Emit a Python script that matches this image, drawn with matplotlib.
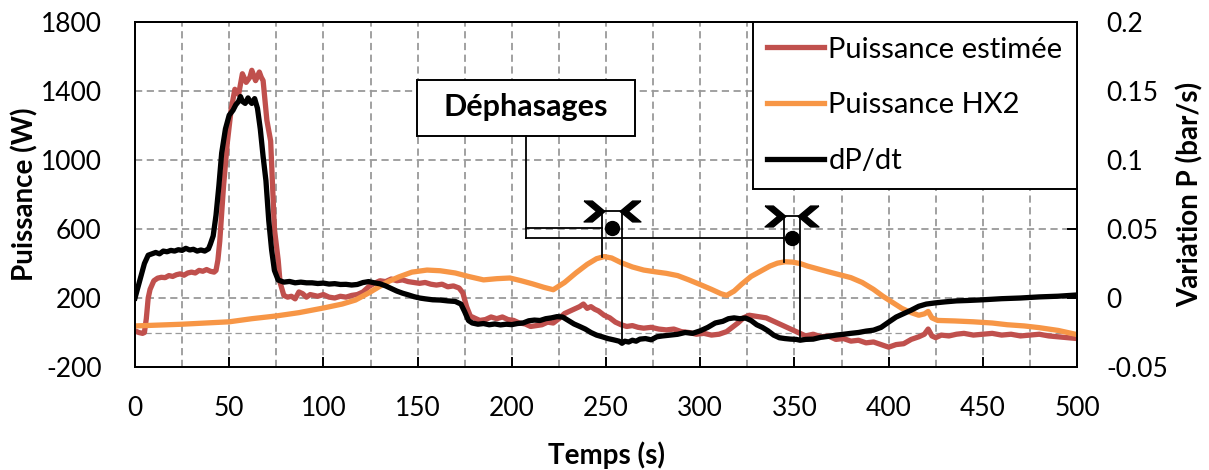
import numpy as np
import matplotlib
matplotlib.use("Agg")
import matplotlib.pyplot as plt
from matplotlib.patches import Rectangle

plt.rcParams['font.family'] = ['Lato', 'DejaVu Sans']
plt.rcParams['axes.unicode_minus'] = False

# -------------------------------
# Data
# -------------------------------

# Puissance estimée (W)
t_est = [0, 2, 4, 5, 6, 7, 8, 10, 12, 14, 16, 18, 20, 22, 24, 26, 28, 30, 32, 34,
         36, 38, 40, 42, 43, 44, 45, 47, 49, 51, 53, 55, 57, 59, 61, 62, 64, 66, 67, 68,
         70, 72, 74, 76, 77, 79, 81, 83, 85, 87, 89, 91, 93, 95, 97, 100, 103, 106, 109, 112,
         115, 118, 121, 124, 127, 130, 133, 136, 139, 142, 145, 148, 151, 154, 157, 160, 163, 166, 169, 172,
         174, 176, 178, 180, 183, 186, 189, 192, 195, 198, 201, 204, 207, 210, 213, 216, 219, 222, 225, 228,
         231, 234, 236, 238, 240, 242, 244, 246, 249, 252, 255, 258, 261, 264, 267, 270, 274, 278, 282, 286,
         290, 294, 298, 302, 306, 310, 314, 317, 320, 323, 326, 329, 332, 335, 338, 341, 344, 347, 350, 353,
         356, 360, 364, 368, 372, 376, 380, 384, 388, 392, 396, 400, 404, 408, 412, 416, 419, 421, 423, 425,
         428, 432, 436, 440, 445, 450, 455, 460, 465, 470, 475, 480, 485, 490, 495, 500]
p_est = [10, 0, -5, 0, 80, 200, 250, 300, 315, 320, 318, 330, 325, 335, 340, 332, 345, 350, 345, 360,
         355, 365, 355, 350, 360, 420, 530, 850, 1100, 1290, 1410, 1380, 1500, 1450, 1480, 1520, 1460, 1510, 1480, 1460,
         1230, 1110, 600, 420, 290, 215, 205, 210, 195, 235, 225, 205, 220, 215, 210, 220, 205, 200, 210, 205,
         215, 220, 235, 265, 285, 300, 295, 310, 300, 305, 295, 290, 285, 290, 280, 275, 280, 265, 270, 258,
         230, 150, 95, 85, 70, 75, 90, 80, 90, 75, 70, 55, 50, 35, 40, 45, 60, 55, 80, 110,
         125, 140, 150, 165, 140, 150, 135, 125, 100, 85, 60, 45, 35, 40, 30, 25, 30, 20, 15, 20,
         5, 0, -10, -5, -15, -10, 5, 30, 55, 85, 100, 95, 90, 85, 70, 55, 40, 25, 10, -5,
         -20, -10, -25, -20, -40, -35, -50, -45, -60, -55, -70, -85, -70, -65, -40, -25, -10, 20, -20, -30,
         -15, -20, -10, -5, -15, -10, -5, -15, -10, -20, -15, -10, -20, -25, -30, -35]

# Puissance HX2 (W)
t_hx2 = [0, 25, 50, 62, 75, 87, 100, 110, 117, 124, 130, 135, 140, 147, 155, 162, 170, 177, 185, 192,
         199, 205, 211, 217, 222, 228, 234, 240, 245, 249, 253, 258, 264, 270, 276, 282, 288, 294, 300, 306,
         311, 314, 318, 322, 327, 332, 337, 341, 345, 349, 353, 357, 362, 368, 374, 380, 386, 392, 397, 402,
         407, 412, 416, 419, 421, 423, 426, 435, 445, 455, 463, 472, 480, 490, 500]
p_hx2 = [38, 48, 62, 80, 96, 115, 142, 165, 188, 229, 268, 298, 322, 350, 362, 358, 345, 325, 305, 312,
         316, 300, 282, 262, 248, 290, 345, 395, 428, 440, 432, 405, 380, 362, 352, 343, 330, 305, 278, 250,
         225, 215, 240, 280, 325, 355, 385, 402, 410, 408, 400, 385, 370, 352, 335, 318, 290, 250, 210, 175,
         140, 115, 100, 108, 122, 85, 70, 67, 62, 55, 45, 38, 28, 12, -12]

# dP/dt (bar/s)
t_dp = [0, 3, 5, 7, 9, 11, 13, 15, 17, 19, 21, 23, 25, 27, 29, 31, 33, 35, 37, 39,
        40, 41.5, 43, 44.5, 46, 48, 50, 52, 53.5, 55, 56, 57, 58.5, 60, 61, 62, 63.5, 65, 66.5, 68,
        69.5, 71, 72.5, 74, 76, 79, 82, 85, 88, 91, 94, 97, 100, 103, 106, 109, 112, 115, 118, 121,
        124, 127, 130, 133, 136, 139, 142, 145, 148, 151, 154, 158, 162, 166, 170, 173, 175, 177, 179, 182,
        185, 188, 191, 194, 197, 200, 203, 206, 209, 212, 215, 218, 221, 224, 227, 230, 233, 236, 239, 242,
        245, 248, 251, 254, 257, 258.5, 260, 262, 264, 266, 268, 271, 274, 277, 280, 284, 288, 292, 296, 300,
        304, 308, 312, 315, 318, 321, 324, 327, 330, 333, 336, 339, 342, 345, 348, 351, 353, 356, 360, 364,
        368, 372, 376, 380, 384, 388, 392, 396, 400, 404, 408, 412, 416, 420, 425, 430, 436, 442, 450, 460,
        470, 480, 490, 500]
dpdt = [0.0, 0.015, 0.025, 0.031, 0.032, 0.033, 0.032, 0.034, 0.0335, 0.0345, 0.034, 0.035, 0.0345, 0.036, 0.0348, 0.0353, 0.034, 0.0348, 0.034, 0.0356,
        0.039, 0.045, 0.060, 0.081, 0.105, 0.1225, 0.1325, 0.136, 0.14, 0.1425, 0.146, 0.1425, 0.141, 0.145, 0.1425, 0.141, 0.1445, 0.1375, 0.1225, 0.1025,
        0.085, 0.056, 0.035, 0.020, 0.013, 0.0115, 0.012, 0.011, 0.0115, 0.011, 0.011, 0.0105, 0.0108, 0.0101, 0.0104, 0.0098, 0.0099, 0.0094, 0.0098, 0.0112,
        0.0119, 0.011, 0.0103, 0.0088, 0.0069, 0.005, 0.0035, 0.0023, 0.001, 0.0, -0.0006, -0.0013, -0.0015, -0.0021, -0.0025, -0.0044, -0.010, -0.0163, -0.0181, -0.019,
        -0.0185, -0.0194, -0.0188, -0.0195, -0.019, -0.0193, -0.0185, -0.0181, -0.0165, -0.016, -0.0163, -0.015, -0.0144, -0.0135, -0.0138, -0.0163, -0.0188, -0.0206, -0.0225, -0.025,
        -0.0269, -0.0281, -0.0294, -0.0303, -0.0313, -0.0328, -0.0313, -0.0319, -0.0306, -0.0313, -0.0298, -0.0294, -0.0303, -0.0281, -0.0275, -0.0269, -0.0263, -0.025, -0.0256, -0.0238,
        -0.0213, -0.0181, -0.0169, -0.015, -0.0144, -0.015, -0.0145, -0.0163, -0.0194, -0.0213, -0.0238, -0.0269, -0.0288, -0.0294, -0.0298, -0.030, -0.0306, -0.030, -0.0298, -0.0285,
        -0.0278, -0.0269, -0.0263, -0.0256, -0.025, -0.024, -0.0233, -0.0213, -0.0175, -0.0138, -0.0113, -0.0088, -0.006, -0.0044, -0.0035, -0.0028, -0.0021, -0.0018, -0.0013, -0.0005,
        0.0, 0.0008, 0.0013, 0.0022]

labels = ["Puissance estimée", "Puissance HX2", "dP/dt"]
colors = ["#C0504D", "#F79646", "#000000"]

x_ticks = list(range(0, 501, 50))
left_ticks = [-200, 200, 600, 1000, 1400, 1800]
right_ticks = [-0.05, 0, 0.05, 0.1, 0.15, 0.2]
right_tick_labels = ["-0.05", "0", "0.05", "0.1", "0.15", "0.2"]

# phase shift annotation: orange peak time -> dP/dt minimum time
phase_start = [248, 344.3]
phase_end = [258.3, 352.8]
phase_top = [706, 675]        # bracket top (W scale)
phase_link = [604, 546]       # connector / dot height (W scale)
note_text = "Déphasages"

# -------------------------------
# Plot
# -------------------------------

fig = plt.figure(figsize=(12.09, 4.70), dpi=100)
ax = fig.add_axes([135 / 1209, 103 / 470, 942 / 1209, 345 / 470])
ax2 = ax.twinx()

ax.set_xlim(0, 500)
ax.set_ylim(-200, 1800)
ax2.set_ylim(-0.05, 0.2)

ax.set_xticks(x_ticks)
ax.set_xticks(np.arange(0, 501, 25), minor=True)
ax.set_yticks(left_ticks)
ax2.set_yticks(right_ticks)
ax2.set_yticklabels(right_tick_labels)

ax.grid(which='both', axis='x', color='#9a9a9a', linestyle=(0, (4, 2.5)), linewidth=1.3)
ax.grid(which='major', axis='y', color='#9a9a9a', linestyle=(0, (4, 2.5)), linewidth=1.3)
ax.axhline(0, color='#9a9a9a', linestyle=(0, (5, 3)), linewidth=0.9, zorder=1)
ax.set_axisbelow(True)

l1, = ax.plot(t_est, p_est, color=colors[0], linewidth=3.8, solid_joinstyle='round', zorder=3)
l2, = ax.plot(t_hx2, p_hx2, color=colors[1], linewidth=3.8, solid_joinstyle='round', zorder=3)
l3, = ax2.plot(t_dp, dpdt, color=colors[2], linewidth=3.8, solid_joinstyle='round', zorder=3)

# ticks and spines
ax.tick_params(axis='x', which='major', direction='in', length=7, width=1.4, pad=21, labelsize=19)
ax.tick_params(axis='x', which='minor', length=0)
ax.tick_params(axis='y', length=0, pad=24, labelsize=19)
ax2.tick_params(axis='y', direction='in', length=7, width=1.4, pad=21, labelsize=19)
for a in (ax, ax2):
    for s in a.spines.values():
        s.set_linewidth(1.4)
        s.set_color('black')

ax.set_xlabel("Temps (s)", fontsize=20, fontweight='bold')
ax.xaxis.set_label_coords(0.5, -0.255)
ax.xaxis.label.set_va('center')
ax.set_ylabel("Puissance (W)", fontsize=20, fontweight='bold')
ax.yaxis.set_label_coords(-0.117, 0.5)
ax.yaxis.label.set_va('center')
ax2.set_ylabel("Variation P (bar/s)", fontsize=20, fontweight='bold')
ax2.yaxis.set_label_coords(1.12, 0.5)
ax2.yaxis.label.set_va('center')

# -------------------------------
# Annotation "Déphasages"
# -------------------------------
box_x0, box_x1 = 149.7, 265.4
box_y0, box_y1 = 1139, 1464
ax.add_patch(Rectangle((box_x0, box_y0), box_x1 - box_x0, box_y1 - box_y0,
                       facecolor='white', edgecolor='black', linewidth=1.4, zorder=5))
ax.text((box_x0 + box_x1) / 2, (box_y0 + box_y1) / 2 + 5, note_text, ha='center', va='center',
        fontsize=22, fontweight='bold', zorder=6)
link_x = (box_x0 + box_x1) / 2
ax.plot([link_x, link_x], [box_y0, phase_link[1]], color='black', linewidth=1.3, zorder=5)

dp_left = (np.array(dpdt) + 0.05) / 0.25 * 2000 - 200   # dP/dt expressed on the W scale
chev_r = [(-1, 1), (-0.2, 1), (1, 0), (-0.2, -1), (-1, -1), (0.2, 0), (-1, 1)]
chev_l = [(-x, y) for x, y in chev_r]
for i in range(2):
    ts, te = phase_start[i], phase_end[i]
    y_bot_s = np.interp(ts, t_hx2, p_hx2)
    y_bot_e = np.interp(te, t_dp, dp_left)
    ax.plot([ts, ts, te, te], [y_bot_s, phase_top[i], phase_top[i], y_bot_e],
            color='black', linewidth=1.3, zorder=5)
    ax.plot([link_x, ts], [phase_link[i], phase_link[i]], color='black', linewidth=1.3, zorder=5)
    ax.plot([(ts + te) / 2], [phase_link[i]], marker='o', markersize=10, color='black', zorder=6)
    ax.plot([ts - 4.5], [phase_top[i]], marker=chev_r, markersize=15, color='black',
            linestyle='none', zorder=6)
    ax.plot([te + 4.5], [phase_top[i]], marker=chev_l, markersize=15, color='black',
            linestyle='none', zorder=6)

# legend
leg = ax2.legend([l1, l2, l3], labels, loc='upper right', bbox_to_anchor=(1.0, 1.0),
                 fontsize=21, frameon=True, fancybox=False, framealpha=1, edgecolor='black',
                 borderaxespad=0, handlelength=1.95, handletextpad=0.14, labelspacing=1.02,
                 borderpad=0.5)
leg.get_frame().set_linewidth(1.4)
leg.set_zorder(10)

plt.savefig("out.png", dpi=100)
